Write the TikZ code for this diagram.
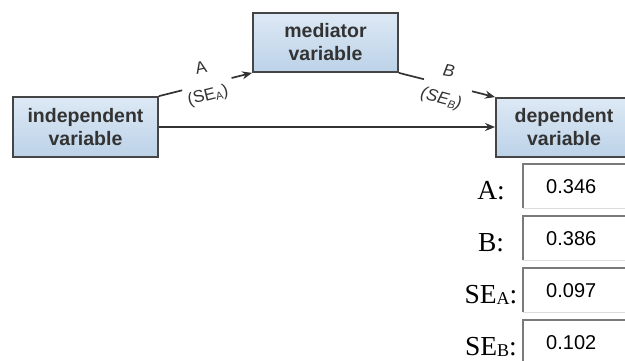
\documentclass[tikz,border=0pt]{standalone}
\usepackage{fontspec}
\setmainfont{Liberation Serif}
\setsansfont{Liberation Sans}
\usetikzlibrary{arrows.meta}
\definecolor{boxtop}{HTML}{DDE9F5}
\definecolor{boxbot}{HTML}{BCD2E8}
\definecolor{boxline}{HTML}{454545}
\definecolor{txt}{HTML}{333333}
\definecolor{fielddark}{HTML}{7A7A7A}
\definecolor{fieldlight}{HTML}{DDDDDD}
\newcommand{\subsmall}[1]{\raisebox{-1.5pt}{\fontsize{18}{18}\selectfont #1}}
\newcommand{\subpath}[1]{\raisebox{-2pt}{\fontsize{11}{11}\selectfont #1}}
\begin{document}
\begin{tikzpicture}[x=1pt,y=-1pt,
 varbox/.style={draw=boxline,line width=1.8pt,top color=boxtop,bottom color=boxbot,inner sep=0pt,align=center,font=\sffamily\bfseries\fontsize{19.5}{23}\selectfont,text=txt},
 conn/.style={draw=txt,line width=1.7pt},
 tip/.style={-{Stealth[length=10pt,width=8pt]}},
 pathlbl/.style={font=\sffamily\fontsize{17}{17}\selectfont,text=txt,inner sep=0pt},
 field/.style={minimum width=110pt,minimum height=44pt,anchor=north west,inner xsep=23pt,inner ysep=0pt,text width=64pt,align=left,font=\sffamily\fontsize{20}{20}\selectfont},
 fieldlbl/.style={font=\fontsize{27.5}{27.5}\selectfont,anchor=base,inner sep=0pt}]
\useasboundingbox (0,0) rectangle (625,360);

% variable boxes
\node[varbox,minimum width=145pt,minimum height=60pt] (ind) at (85.5,127) {independent\\variable};
\node[varbox,minimum width=145pt,minimum height=59pt] (med) at (325.5,42.5) {mediator\\variable};
\node[varbox,minimum width=136pt,minimum height=59pt] (dep) at (564,127.5) {dependent\\variable};

% path A
\path (ind.north east) -- (med.south west) coordinate[pos=0.25] (a1) coordinate[pos=0.78] (a2);
\draw[conn] (ind.north east) -- (a1);
\draw[conn,tip] (a2) -- (med.south west);
\node[pathlbl,rotate=12] (labA) at (201,68) {A};
\node[pathlbl,rotate=14] (labSEA) at (208,96) {(SE\subpath{A})};

% path B
\path (med.south east) -- (dep.north west) coordinate[pos=0.26] (b1) coordinate[pos=0.76] (b2);
\draw[conn] (med.south east) -- (b1);
\draw[conn,tip] (b2) -- (dep.north west);
\node[pathlbl,rotate=-10] (labB) at (449,71) {\itshape B};
\node[pathlbl,rotate=-15] (labSEB) at (441,99) {\itshape (SE\subpath{B})};

% direct path
\draw[conn,tip] (ind.east) -- (ind.east -| dep.west);

% result fields
\foreach \k/\v/\nm in {0/0.346/fA,1/0.386/fB,2/0.097/fSEA,3/0.102/fSEB}{
  \node[field] (\nm) at (523,164+52*\k) {\v};
  \draw[fieldlight,line width=1.5pt] (\nm.north east) -- (\nm.south east) -- (\nm.south west);
  \draw[fielddark,line width=2.2pt] (\nm.south west) -- (\nm.north west) -- (\nm.north east);
}
\node[fieldlbl] (lA) at (491,199) {A:};
\node[fieldlbl] (lB) at (491,251) {B:};
\node[fieldlbl] (lSEA) at (491,303) {SE\subsmall{A}:};
\node[fieldlbl] (lSEB) at (491,355) {SE\subsmall{B}:};
\end{tikzpicture}
\end{document}
